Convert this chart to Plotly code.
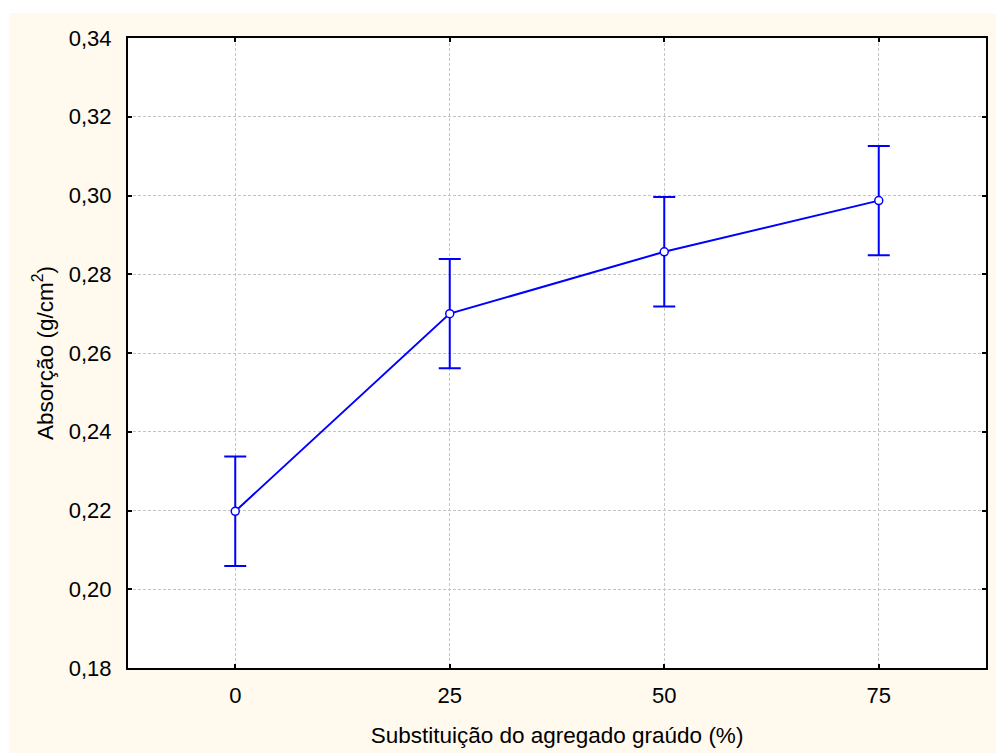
import plotly.graph_objects as go

# Coarse aggregate substitution levels (%) and mean absorption (g/cm²)
substituicao = [0, 25, 50, 75]
absorcao = [0.2198, 0.2700, 0.2857, 0.2987]
erro = [0.0139, 0.0139, 0.0139, 0.0139]

x_ticks = [0, 25, 50, 75]
y_ticks = [0.18, 0.20, 0.22, 0.24, 0.26, 0.28, 0.30, 0.32, 0.34]

AZUL = "#0000FF"
CREME = "#FFF9EE"
FONTE = "Liberation Sans, Arial, sans-serif"
TAM = 22
TAM_TITULO = 22.5

fig = go.Figure()
fig.add_trace(go.Scatter(
    x=substituicao,
    y=absorcao,
    mode="lines+markers",
    line=dict(color=AZUL, width=2),
    marker=dict(size=8, color="white", line=dict(color=AZUL, width=1.5)),
    error_y=dict(type="data", array=erro, visible=True,
                 color=AZUL, thickness=2, width=11),
    showlegend=False,
))

axis_common = dict(
    showline=True, linecolor="black", linewidth=2, mirror="ticks",
    ticks="inside", ticklen=4, tickwidth=1.5, tickcolor="black",
    showgrid=True, gridcolor="#c4c4c4", gridwidth=1, griddash="3px,2px",
    zeroline=False,
    tickfont=dict(family=FONTE, size=TAM, color="black"),
)

fig.update_xaxes(
    range=[-12.5, 87.5], tickvals=x_ticks, ticktext=[str(v) for v in x_ticks],
    title=dict(text="Substituição do agregado graúdo (%)",
               font=dict(family=FONTE, size=TAM_TITULO, color="black"), standoff=20),
    ticklabelstandoff=7,
    **axis_common,
)
fig.update_yaxes(
    range=[0.18, 0.34], tickvals=y_ticks, tickformat=".2f",
    title=dict(text="Absorção (g/cm<sup>2</sup>)",
               font=dict(family=FONTE, size=TAM_TITULO, color="black"), standoff=9),
    ticklabelstandoff=10,
    **axis_common,
)

# White strips along the top and left edges of the page
fig.add_shape(type="rect", xref="paper", yref="paper",
              x0=-0.2, x1=1.1, y0=1.0397, y1=1.2,
              fillcolor="white", line=dict(width=0), layer="below")
fig.add_shape(type="rect", xref="paper", yref="paper",
              x0=-0.2, x1=-0.1384, y0=-0.2, y1=1.2,
              fillcolor="white", line=dict(width=0), layer="below")

fig.update_layout(
    width=996, height=753,
    margin=dict(l=128, r=8, t=38, b=85),
    paper_bgcolor=CREME, plot_bgcolor="white",
    separators=",.",
    font=dict(family=FONTE, color="black"),
)

fig.write_html("out.html")
